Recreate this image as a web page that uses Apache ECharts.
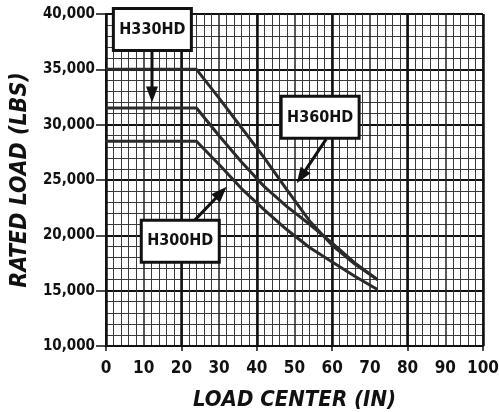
<!DOCTYPE html>
<html>
<head>
<meta charset="utf-8">
<script src="https://cdn.jsdelivr.net/npm/echarts@6/dist/echarts.min.js"></script>
<style>
  html, body { margin: 0; padding: 0; background: #fff; }
  #main { width: 499px; height: 412px; }
</style>
</head>
<body>
<div id="main"></div>
<script>
// load center (in) and rated load (lbs)
var loadCenter = [0, 24, 30, 36, 42, 48, 54, 60, 66, 72]
var h360 = [35000, 35000, 32400, 29700, 27000, 24100, 21300, 19100, 17400, 16000]
var h330 = [31500, 31500, 29000, 26600, 24400, 22600, 21000, 19300, 17500, 16000]
var h300 = [28500, 28500, 26400, 24200, 22300, 20500, 18900, 17600, 16300, 15100]

var xTicks = [0, 10, 20, 30, 40, 50, 60, 70, 80, 90, 100]
var yTicks = [10000, 15000, 20000, 25000, 30000, 35000, 40000]

// callouts, in data coordinates
var callouts = [
    { name: 'H330HD', box: [12.3, 38600], tail: [12.2, 36600], head: [12.2, 32000] },
    { name: 'H360HD', box: [56.8, 30660], tail: [58.4, 28700], head: [50.6, 24700] },
    { name: 'H300HD', box: [19.7, 19470], tail: [23.6, 21400], head: [32.0, 24380] }
]

var condensed = "'DejaVu Sans Condensed', 'DejaVu Sans', sans-serif"
var narrow = "'Liberation Sans Narrow', 'DejaVu Sans Condensed', sans-serif"

function pairs(ys) {
    return loadCenter.map(function (x, i) { return [x, ys[i]] })
}

var chart = echarts.init(document.getElementById('main'))

var lineStyle = { color: '#2b2b2b', width: 3 }

var option = {
    animation: false,
    backgroundColor: '#fff',
    grid: { left: 106, right: 16, top: 14, bottom: 66, outerBoundsMode: 'none', containLabel: false },
    xAxis: [
        {
            type: 'value',
            min: xTicks[0],
            max: xTicks[xTicks.length - 1],
            interval: 10,
            name: 'LOAD CENTER (IN)',
            nameLocation: 'middle',
            nameGap: 43,
            nameTextStyle: { fontFamily: narrow, fontWeight: 'bold', fontStyle: 'italic', fontSize: 22, color: '#111' },
            axisLine: { lineStyle: { color: '#111', width: 2 } },
            axisTick: { show: false },
            axisLabel: { fontFamily: condensed, fontWeight: 'bold', fontSize: 17, color: '#111', margin: 14 },
            splitLine: { lineStyle: { color: '#222', width: 1.5 } },
            minorTick: { show: false, splitNumber: 5 },
            minorSplitLine: { show: true, lineStyle: { color: '#3a3a3a', width: 1 } }
        },
        {
            type: 'value',
            position: 'bottom',
            min: 0,
            max: 100,
            interval: 20,
            axisLine: { show: false },
            axisTick: { show: true, length: 5, lineStyle: { color: '#111', width: 1.5 } },
            axisLabel: { show: false },
            splitLine: { lineStyle: { color: '#111', width: 2.5 } }
        }
    ],
    yAxis: {
        type: 'value',
        min: yTicks[0],
        max: yTicks[yTicks.length - 1],
        interval: 5000,
        name: 'RATED LOAD (LBS)',
        nameLocation: 'middle',
        nameRotate: 90,
        nameGap: 72,
        nameTextStyle: { fontFamily: narrow, fontWeight: 'bold', fontStyle: 'italic', fontSize: 23, color: '#111' },
        axisLine: { show: true, lineStyle: { color: '#111', width: 2 } },
        axisTick: { show: true, length: 10, lineStyle: { color: '#111', width: 1.5 } },
        axisLabel: {
            fontFamily: condensed, fontWeight: 'bold', fontSize: 15, color: '#111', margin: 11,
            formatter: function (v) { return v.toLocaleString('en-US') }
        },
        splitLine: { lineStyle: { color: '#111', width: 2 } },
        minorTick: { show: false, splitNumber: 5 },
        minorSplitLine: { show: true, lineStyle: { color: '#3a3a3a', width: 1 } }
    },
    series: [
        { name: 'H360HD', type: 'line', data: pairs(h360), symbol: 'none', lineStyle: lineStyle, z: 5 },
        { name: 'H330HD', type: 'line', data: pairs(h330), symbol: 'none', lineStyle: lineStyle, z: 5 },
        { name: 'H300HD', type: 'line', data: pairs(h300), symbol: 'none', lineStyle: lineStyle, z: 5 }
    ]
}

chart.setOption(option)

// callout boxes and arrows, placed through the axes
var toPx = function (p) {
    return chart.convertToPixel({ xAxisIndex: 0, yAxisIndex: 0 }, p)
}

var elements = []
callouts.forEach(function (c) {
    var t = toPx(c.tail), h = toPx(c.head), b = toPx(c.box)
    var dx = h[0] - t[0], dy = h[1] - t[1]
    var len = Math.sqrt(dx * dx + dy * dy)
    var ux = dx / len, uy = dy / len
    var headLen = 16, headW = 6
    var bx = h[0] - ux * headLen, by = h[1] - uy * headLen
    elements.push({
        type: 'line', z: 10,
        shape: { x1: t[0], y1: t[1], x2: bx + ux * 2, y2: by + uy * 2 },
        style: { stroke: '#111', lineWidth: 3 }
    })
    elements.push({
        type: 'polygon', z: 10,
        shape: { points: [[h[0], h[1]], [bx - uy * headW, by + ux * headW], [bx + uy * headW, by - ux * headW]] },
        style: { fill: '#111' }
    })
    elements.push({
        type: 'rect', z: 11,
        shape: { x: b[0] - 39, y: b[1] - 21, width: 78, height: 42 },
        style: { fill: '#fff', stroke: '#111', lineWidth: 3 }
    })
    elements.push({
        type: 'text', z: 12,
        x: b[0], y: b[1],
        style: {
            text: c.name, fill: '#111', align: 'center', verticalAlign: 'middle',
            font: 'bold 16px ' + condensed
        }
    })
})

chart.setOption({ graphic: elements })
</script>
</body>
</html>
